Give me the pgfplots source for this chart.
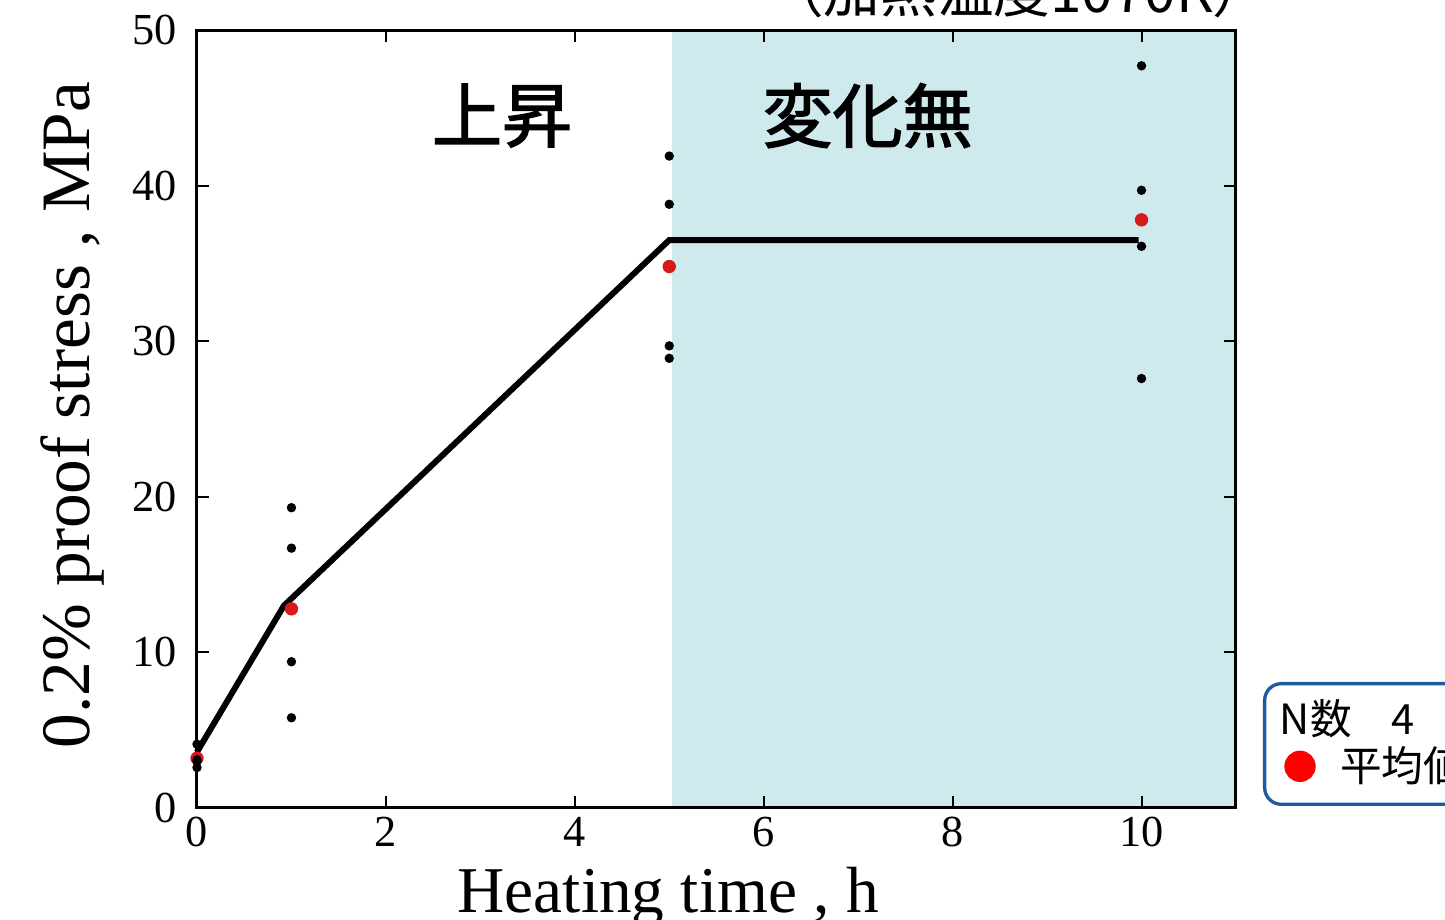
\documentclass[border=0pt]{standalone}
\usepackage{pgfplots}
\pgfplotsset{compat=1.18}
\usepackage{fontspec}
\setmainfont{Liberation Serif}
\newfontfamily\cjk{Noto Sans CJK JP}
\newfontfamily\cjkfb{Noto Sans CJK JP}[FakeBold=2]
\definecolor{shade}{RGB}{206,234,237}
\definecolor{legblue}{RGB}{30,90,160}
\definecolor{dotred}{RGB}{215,25,30}
\begin{document}
\begin{tikzpicture}
\begin{axis}[
  width=311.7pt, height=233.4pt, scale only axis,
  xmin=0, xmax=11, ymin=0, ymax=50,
  xtick={0,2,4,6,8,10}, ytick={0,10,20,30,40,50},
  tick align=inside, major tick length=3.6pt,
  tick style={black, line width=0.6pt},
  axis line style={line width=0.9pt},
  tick label style={font=\fontsize{13.3}{13}\selectfont},
  /pgf/number format/assume math mode=true,
  xticklabel style={yshift=0.8pt},
  yticklabel style={xshift=-2.5pt},
  xlabel={Heating time , h},
  ylabel={0.2\% proof stress , MPa},
  xlabel style={at={(rel axis cs:0.4535,-0.1337)}, anchor=base, inner sep=0pt, font=\fontsize{19.6}{20}\selectfont},
  ylabel style={at={(rel axis cs:-0.103,0.505)}, anchor=base, rotate=0, inner sep=0pt, font=\fontsize{20.8}{21}\selectfont},
  axis on top, clip=false,
  legend style={at={(rel axis cs:1.026,0.0026)}, anchor=south west, draw=legblue, line width=1pt,
    rounded corners=5pt, fill=white, font=\cjk\fontsize{12.5}{14}\selectfont,
    inner xsep=3pt, inner ysep=3.4pt, row sep=-2pt, legend cell align=left},
]
\addplot[draw=none, fill=shade, forget plot] coordinates {(5.03,0) (11,0) (11,50) (5.03,50)} \closedcycle;
\addplot[only marks, mark=*, mark size=1.8pt, color=dotred, forget plot] coordinates {(0,3.2) (1,12.8) (5,34.8) (10,37.8)};
\addplot[black, line width=1.8pt, forget plot] coordinates {(0,3.6) (0.92,13.0) (5.0,36.5) (9.97,36.5)};
\addplot[only marks, mark=*, mark size=1.2pt, color=black, forget plot] coordinates {
 (0,4.1) (0,2.6) (0,3.0) (0,3.1)
 (1,19.3) (1,16.7) (1,9.4) (1,5.8)
 (5,41.9) (5,38.8) (5,29.7) (5,28.9)
 (10,47.7) (10,39.7) (10,36.1) (10,27.6)};
\addlegendimage{legend image code/.code={\path (0,-0.2cm-3pt) (0,-0.2cm+11.4pt);\node[overlay, anchor=base west, inner sep=0pt] at (0.02cm,-0.2cm) {N数\hspace{0.95em}4};}}
\addlegendentry{}
\addlegendimage{legend image code/.code={\fill[red] (0.25cm,0cm) circle (4.2pt); \path (0.25cm,0cm) ++(9.5pt,0);}}
\addlegendentry{平均値}
\node[font=\cjkfb\fontsize{21}{21}\selectfont] at (axis cs:3.23,44.5) {上昇};
\node[font=\cjkfb\fontsize{21}{21}\selectfont] at (axis cs:7.10,44.5) {変化無};
\node[font=\cjk\fontsize{17}{17}\selectfont, anchor=base east, inner sep=0pt] at (rel axis cs:1.033,1.022) {（加熱温度1070K）};
\coordinate (bbll) at (rel axis cs:-0.1896,-0.1427);
\coordinate (bbur) at (rel axis cs:1.2012,1.0386);
\end{axis}
\pgfresetboundingbox
\useasboundingbox (bbll) rectangle (bbur);
\end{tikzpicture}
\end{document}
